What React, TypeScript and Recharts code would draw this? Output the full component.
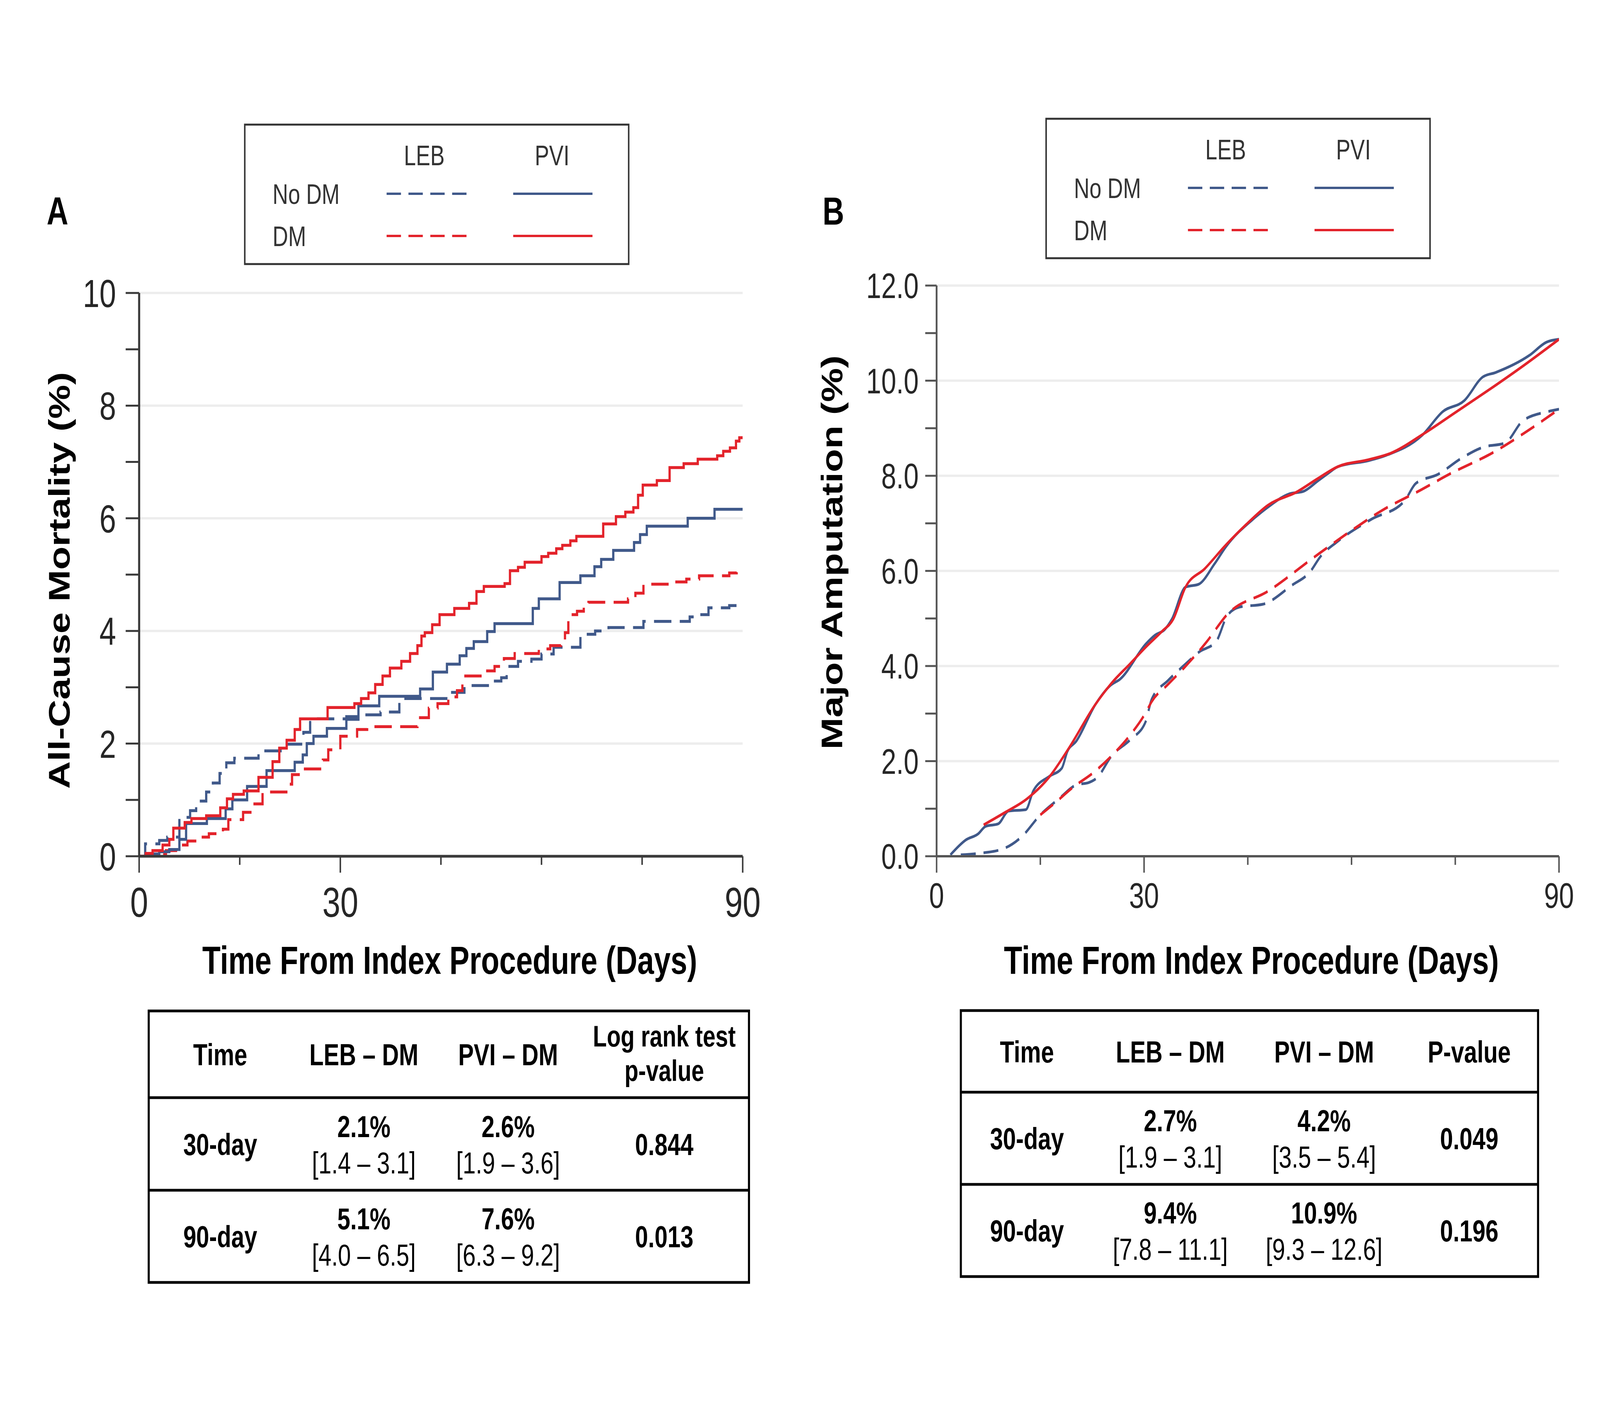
import React from 'react';
import { LineChart, Line, XAxis, YAxis, ReferenceLine } from 'recharts';

const FONT = '"Liberation Sans", Arial, Helvetica, sans-serif';
const BLUE = '#40598a';
const RED = '#e3232b';
const AXIS_A = '#3a3a3a';
const AXIS_B = '#555555';
const GRID = '#ededed';
const PAGE_W = 5347;
const PAGE_H = 3648;

// ---------- Panel A : All-cause mortality (Kaplan-Meier steps) ----------
const A_X_TICKS = [0, 15, 30, 45, 60, 75, 90];
const A_X_LABELS = [0, 30, 90];
const A_Y_TICKS = [0, 1, 2, 3, 4, 5, 6, 7, 8, 9, 10];
const A_Y_LABELS = [0, 2, 4, 6, 8, 10];
const A_GRID = [2, 4, 6, 8, 10];

const A_PVI_DM = [
  [0, 0], [1, 0.05], [2, 0.1], [3.5, 0.2], [4.5, 0.3], [5.1, 0.5], [6.8, 0.6], [7.8, 0.67], [10, 0.72],
  [12.1, 0.86], [13.1, 1.02], [14, 1.1], [15.6, 1.16], [17.8, 1.4], [19.9, 1.68], [20.9, 1.92], [22, 2.06],
  [23.2, 2.25], [24, 2.44], [28.1, 2.64], [32.1, 2.71], [33.1, 2.8], [34.2, 2.9], [35.2, 3.05], [36.3, 3.2],
  [37.4, 3.34], [39.1, 3.46], [40.4, 3.6], [41.5, 3.74], [42.1, 3.91], [42.6, 3.97], [43.7, 4.11], [44.8, 4.29],
  [47, 4.4], [49.2, 4.49], [50.3, 4.7], [51.4, 4.79], [54.5, 4.84], [55.3, 5.07], [56.5, 5.13], [57.5, 5.22],
  [60, 5.32], [61, 5.38], [62.2, 5.46], [63.1, 5.52], [64.3, 5.6], [65.2, 5.68], [69.2, 5.9], [71.1, 6.03],
  [72.5, 6.11], [73.7, 6.19], [74.4, 6.41], [75.1, 6.59], [77.2, 6.67], [79.1, 6.9], [81.2, 6.97], [83.3, 7.05],
  [86.2, 7.11], [87.1, 7.19], [88.1, 7.25], [89, 7.37], [89.5, 7.43], [90, 7.43],
];
const A_PVI_NODM = [
  [0, 0], [1.5, 0.04], [3, 0.08], [4.5, 0.12], [6, 0.3], [7, 0.58], [10.1, 0.67], [12.9, 0.84], [13.9, 1.0],
  [16.1, 1.24], [19, 1.52], [23.2, 1.67], [24.4, 1.8], [25, 2.0], [26, 2.13], [28, 2.27], [30.9, 2.43],
  [32.7, 2.67], [35.8, 2.84], [41.9, 2.97], [43.8, 3.27], [45.9, 3.41], [47.8, 3.56], [48.8, 3.69], [49.9, 3.81],
  [51.9, 3.99], [53, 4.13], [58.7, 4.4], [59.6, 4.57], [62.7, 4.86], [65.8, 4.98], [67.9, 5.14], [68.9, 5.27],
  [70.7, 5.43], [73.8, 5.57], [74.7, 5.71], [75.7, 5.86], [81.8, 6.0], [85.8, 6.16], [90, 6.16],
];
const A_LEB_DM = [
  [0, 0], [2, 0.04], [4, 0.1], [5.5, 0.2], [7.2, 0.27], [9, 0.34], [10.4, 0.4], [12.5, 0.48], [13.3, 0.65],
  [15.5, 0.78], [16.9, 0.93], [18.4, 1.14], [22.2, 1.28], [22.8, 1.45], [24.3, 1.55], [27.4, 1.71], [28.2, 1.89],
  [30, 2.13], [32.5, 2.25], [34, 2.3], [41.5, 2.46], [43.2, 2.63], [44.5, 2.71], [46.1, 2.83], [47.4, 2.94],
  [48.2, 3.2], [51.7, 3.29], [53, 3.37], [54.4, 3.51], [56, 3.6], [59.6, 3.68], [61.3, 3.74], [62.9, 3.81],
  [63.5, 3.97], [64, 4.29], [65.3, 4.35], [66.3, 4.45], [67, 4.51], [72.9, 4.57], [74, 4.67], [75.2, 4.83],
  [79.5, 4.87], [81.6, 4.92], [83.5, 4.98], [88, 5.03], [89.1, 5.08], [90, 5.08],
];
const A_LEB_NODM = [
  [0, 0], [0.9, 0.22], [3, 0.28], [4.2, 0.34], [6, 0.69], [7.6, 0.81], [8.5, 0.98], [10, 1.14], [11, 1.3],
  [12, 1.47], [13, 1.66], [14.2, 1.74], [17.8, 1.87], [22, 1.99], [24.5, 2.2], [25.5, 2.44], [30.9, 2.48],
  [33, 2.51], [36, 2.56], [38.8, 2.8], [46, 2.91], [48.5, 3.03], [52.6, 3.11], [54, 3.17], [54.8, 3.37],
  [56.5, 3.46], [58.5, 3.5], [60, 3.59], [61.8, 3.71], [65.8, 3.94], [68, 4.0], [70, 4.06], [75.2, 4.17],
  [79.7, 4.17], [82.1, 4.25], [83.3, 4.29], [84.9, 4.41], [88, 4.45], [90, 4.45],
];

// ---------- Panel B : Major amputation ----------
const B_X_TICKS = [0, 15, 30, 45, 60, 75, 90];
const B_X_LABELS = [0, 30, 90];
const B_Y_TICKS = [0, 1, 2, 3, 4, 5, 6, 7, 8, 9, 10, 11, 12];
const B_Y_LABELS = [0, 2, 4, 6, 8, 10, 12];
const B_GRID = [2, 4, 6, 8, 10, 12];

const B_PVI_DM = [
  [6.8, 0.66], [10, 0.93], [13, 1.2], [16.2, 1.65], [19.2, 2.29], [22.9, 3.18], [25.3, 3.64], [28, 4.05],
  [30.2, 4.39], [32.6, 4.73], [34.2, 4.98], [36, 5.66], [38.8, 6.05], [41.8, 6.54], [44.8, 6.98], [47.9, 7.38],
  [52.2, 7.67], [55, 7.93], [58, 8.19], [62.5, 8.34], [65.6, 8.47], [70.5, 8.89], [75, 9.33], [80, 9.82],
  [85, 10.33], [90, 10.87],
];
const B_PVI_NODM = [
  [2, 0.03], [4.2, 0.34], [6, 0.47], [7.1, 0.63], [8.9, 0.68], [10.4, 0.95], [12.9, 0.98], [14, 1.38],
  [16.3, 1.68], [18.1, 1.85], [18.9, 2.2], [20.2, 2.42], [23, 3.2], [25.2, 3.6], [26.5, 3.72], [30.3, 4.47],
  [31.6, 4.65], [33, 4.77], [34, 4.98], [36, 5.66], [37.9, 5.72], [40.2, 6.15], [41.8, 6.5], [46.1, 7.13],
  [47.9, 7.34], [51, 7.62], [53, 7.67], [55.2, 7.9], [56.6, 8.05], [58, 8.19], [62.5, 8.32], [65, 8.43],
  [70.2, 8.85], [73.2, 9.35], [76.3, 9.58], [79, 10.08], [80.8, 10.17], [85.7, 10.53], [88.2, 10.81], [90, 10.87],
];
const B_LEB_DM = [
  [15, 0.87], [17.1, 1.12], [19.8, 1.46], [22.6, 1.75], [25.3, 2.11], [28, 2.55], [30.2, 3.01], [31.1, 3.25],
  [33.5, 3.62], [35.9, 3.98], [39, 4.5], [42, 5.08], [48, 5.58], [54.7, 6.3], [60, 6.85], [64.4, 7.27],
  [70, 7.7], [74.1, 8.03], [80.6, 8.5], [85, 8.9], [90, 9.4],
];
const B_LEB_NODM = [
  [3.5, 0.03], [6, 0.06], [9.5, 0.15], [12.3, 0.41], [15, 0.87], [17.7, 1.21], [20.2, 1.5], [22, 1.55],
  [23.2, 1.65], [25.3, 2.11], [28, 2.45], [30.2, 2.82], [31.1, 3.3], [33.5, 3.7], [35.9, 4.03], [38, 4.3],
  [40.4, 4.51], [42, 5.05], [43.8, 5.24], [47.2, 5.3], [51.4, 5.7], [54, 5.98], [55.5, 6.3], [57.9, 6.61],
  [62.8, 7.08], [67.6, 7.46], [69.3, 7.84], [72.5, 8.03], [75.8, 8.36], [79, 8.6], [82.2, 8.69], [84.8, 9.16],
  [88.4, 9.35], [90, 9.4],
];

// ---------- Tables ----------
const A_HEAD = [['Time'], ['LEB – DM'], ['PVI – DM'], ['Log rank test', 'p-value']];
const A_ROWS = [
  [['30-day'], ['2.1%', '[1.4 – 3.1]'], ['2.6%', '[1.9 – 3.6]'], ['0.844']],
  [['90-day'], ['5.1%', '[4.0 – 6.5]'], ['7.6%', '[6.3 – 9.2]'], ['0.013']],
];
const B_HEAD = [['Time'], ['LEB – DM'], ['PVI – DM'], ['P-value']];
const B_ROWS = [
  [['30-day'], ['2.7%', '[1.9 – 3.1]'], ['4.2%', '[3.5 – 5.4]'], ['0.049']],
  [['90-day'], ['9.4%', '[7.8 – 11.1]'], ['10.9%', '[9.3 – 12.6]'], ['0.196']],
];

const LEGEND_COLS = ['LEB', 'PVI'];
const LEGEND_ROWS = ['No DM', 'DM'];
const X_TITLE = 'Time From Index Procedure (Days)';

const toPts = (arr: number[][]) => arr.map(([x, y]) => ({ x, y }));

const makeYTick = (labels: number[], color: string, len: number, gap: number, fs: number, fmt: (v: number) => string) =>
  (props: any) => {
    const { x, y, payload } = props;
    const v = payload.value;
    return (
      <g>
        <line x1={x - len} x2={x} y1={y} y2={y} stroke={color} strokeWidth={5} />
        {labels.includes(v) && (
          <text x={x - gap} y={y + fs * 0.36} textAnchor="end" fontSize={fs} fontFamily={FONT} fill="#262626">
            {fmt(v)}
          </text>
        )}
      </g>
    );
  };

const makeXTick = (labels: number[], color: string, off: number, fs: number) => (props: any) => {
  const { x, y, payload } = props;
  const v = payload.value;
  const major = labels.includes(v);
  return (
    <g>
      <line x1={x} x2={x} y1={y} y2={y + (major ? 42 : 22)} stroke={color} strokeWidth={5} />
      {major && (
        <text x={x} y={y + off} textAnchor="middle" fontSize={fs} fontFamily={FONT} fill="#262626">
          {v}
        </text>
      )}
    </g>
  );
};

function PanelA() {
  return (
    <LineChart width={2700} height={2600} margin={{ top: 750, right: 218, bottom: 208, left: 265 }}>
      <XAxis dataKey="x" type="number" domain={[0, 90]} ticks={A_X_TICKS} interval={0} height={200}
        tickLine={false} tickSize={0} tickMargin={0} axisLine={{ stroke: AXIS_A, strokeWidth: 7 }}
        tick={makeXTick(A_X_LABELS, AXIS_A, 155, 108)} allowDataOverflow />
      <YAxis type="number" domain={[0, 10]} ticks={A_Y_TICKS} interval={0} width={200}
        tickLine={false} tickSize={0} tickMargin={0} axisLine={{ stroke: AXIS_A, strokeWidth: 7 }}
        tick={makeYTick(A_Y_LABELS, AXIS_A, 45, 77, 100, (v) => String(v))} allowDataOverflow />
      {A_GRID.map((g) => (
        <ReferenceLine key={g} y={g} stroke={GRID} strokeWidth={6} ifOverflow="extendDomain" />
      ))}
      <Line data={toPts(A_LEB_NODM)} dataKey="y" type="stepAfter" stroke={BLUE} strokeWidth={7.5} strokeDasharray="58 28" dot={false} isAnimationActive={false} />
      <Line data={toPts(A_LEB_DM)} dataKey="y" type="stepAfter" stroke={RED} strokeWidth={7.5} strokeDasharray="58 28" dot={false} isAnimationActive={false} />
      <Line data={toPts(A_PVI_NODM)} dataKey="y" type="stepAfter" stroke={BLUE} strokeWidth={7.5} dot={false} isAnimationActive={false} />
      <Line data={toPts(A_PVI_DM)} dataKey="y" type="stepAfter" stroke={RED} strokeWidth={7.5} dot={false} isAnimationActive={false} />
    </LineChart>
  );
}

function PanelB() {
  return (
    <LineChart width={2647} height={2600} margin={{ top: 731, right: 137, bottom: 208, left: 230 }}>
      <XAxis dataKey="x" type="number" domain={[0, 90]} ticks={B_X_TICKS} interval={0} height={200}
        tickLine={false} tickSize={0} tickMargin={0} axisLine={{ stroke: AXIS_B, strokeWidth: 6 }}
        tick={makeXTick(B_X_LABELS, AXIS_B, 132, 90)} allowDataOverflow />
      <YAxis type="number" domain={[0, 12]} ticks={B_Y_TICKS} interval={0} width={200}
        tickLine={false} tickSize={0} tickMargin={0} axisLine={{ stroke: AXIS_B, strokeWidth: 6 }}
        tick={makeYTick(B_Y_LABELS, AXIS_B, 38, 60, 90, (v) => v.toFixed(1))} allowDataOverflow />
      {B_GRID.map((g) => (
        <ReferenceLine key={g} y={g} stroke={GRID} strokeWidth={6} ifOverflow="extendDomain" />
      ))}
      <Line data={toPts(B_LEB_NODM)} dataKey="y" type="monotone" stroke={BLUE} strokeWidth={7} strokeDasharray="50 26" dot={false} isAnimationActive={false} />
      <Line data={toPts(B_LEB_DM)} dataKey="y" type="monotone" stroke={RED} strokeWidth={7} strokeDasharray="50 26" dot={false} isAnimationActive={false} />
      <Line data={toPts(B_PVI_NODM)} dataKey="y" type="monotone" stroke={BLUE} strokeWidth={7} dot={false} isAnimationActive={false} />
      <Line data={toPts(B_PVI_DM)} dataKey="y" type="monotone" stroke={RED} strokeWidth={7} dot={false} isAnimationActive={false} />
    </LineChart>
  );
}

function Legend({ x, y }: { x: number; y: number }) {
  const w = 1283;
  const h = 357;
  const rowsY = [y + 177, y + 285];
  return (
    <g fontFamily={FONT} fill="#333">
      <rect x={x} y={y} width={w} height={h} fill="#fff" stroke="#333" strokeWidth={5} />
      <text x={x + 600} y={y + 78 + 26} fontSize={72} textAnchor="middle">{LEGEND_COLS[0]}</text>
      <text x={x + 1027} y={y + 78 + 26} fontSize={72} textAnchor="middle">{LEGEND_COLS[1]}</text>
      {LEGEND_ROWS.map((r, i) => (
        <g key={r}>
          <text x={x + 93} y={rowsY[i] + 26} fontSize={72}>{r}</text>
          <line x1={x + 474} x2={x + 741} y1={rowsY[i]} y2={rowsY[i]} stroke={i === 0 ? BLUE : RED} strokeWidth={6} strokeDasharray="48 25" />
          <line x1={x + 897} x2={x + 1162} y1={rowsY[i]} y2={rowsY[i]} stroke={i === 0 ? BLUE : RED} strokeWidth={6} />
        </g>
      ))}
    </g>
  );
}

function StatTable({ x0, x1, yl, cols, head, rows }: { x0: number; x1: number; yl: number[]; cols: number[]; head: string[][]; rows: string[][][] }) {
  const fs = 78;
  const cell = (lines: string[], cx: number, cy: number, key: string, headRow: boolean) => {
    if (lines.length === 1) {
      return (
        <text key={key} x={cx} y={cy + fs * 0.36} fontSize={fs} fontWeight="bold" textAnchor="middle">{lines[0]}</text>
      );
    }
    return (
      <g key={key}>
        <text x={cx} y={cy - (headRow ? 48 : 46) + fs * 0.36} fontSize={headRow ? 76 : fs} fontWeight="bold" textAnchor="middle">{lines[0]}</text>
        <text x={cx} y={cy + (headRow ? 40 : 47) + fs * 0.36} fontSize={headRow ? 76 : fs} fontWeight={headRow ? 'bold' : 'normal'} textAnchor="middle">{lines[1]}</text>
      </g>
    );
  };
  const rc = (i: number) => (yl[i] + yl[i + 1]) / 2;
  return (
    <g fontFamily={FONT} fill="#000">
      <rect x={x0} y={yl[0]} width={x1 - x0} height={yl[3] - yl[0]} fill="none" stroke="#000" strokeWidth={7} />
      <line x1={x0} x2={x1} y1={yl[1]} y2={yl[1]} stroke="#000" strokeWidth={7} />
      <line x1={x0} x2={x1} y1={yl[2]} y2={yl[2]} stroke="#000" strokeWidth={7} />
      {head.map((h, j) => cell(h, cols[j], rc(0), 'h' + j, true))}
      {rows.map((r, i) => r.map((c, j) => cell(c, cols[j], rc(i + 1), 'r' + i + j, false)))}
    </g>
  );
}

// The page is fitted to whatever viewport the browser actually gives,
// so that the photographed frame holds the full 5347 x 3648 layout.
function usePageScale() {
  const get = () => {
    if (typeof window === 'undefined') return { sx: 1, sy: 1 };
    const w = document.documentElement.clientWidth || window.innerWidth || PAGE_W;
    const h = document.documentElement.clientHeight || window.innerHeight || PAGE_H;
    return { sx: w / PAGE_W, sy: h / PAGE_H };
  };
  const [s, setS] = React.useState(get);
  React.useEffect(() => {
    const on = () => setS(get());
    window.addEventListener('resize', on);
    on();
    return () => window.removeEventListener('resize', on);
  }, []);
  return s;
}

export default function App() {
  const { sx, sy } = usePageScale();
  return (
    <div style={{ position: 'fixed', left: 0, top: 0, width: '100vw', height: '100vh', overflow: 'hidden', background: '#fff' }}>
      <div style={{ position: 'absolute', left: 0, top: 0, width: PAGE_W, height: PAGE_H, background: '#fff', transform: `scale(${sx}, ${sy})`, transformOrigin: '0 0' }}>
        <div style={{ position: 'absolute', left: 0, top: 0, width: 2700, height: 2600 }}>
          <PanelA />
        </div>
        <div style={{ position: 'absolute', left: 2700, top: 0, width: 2647, height: 2600 }}>
          <PanelB />
        </div>
        <svg width={PAGE_W} height={PAGE_H} style={{ position: 'absolute', left: 0, top: 0, pointerEvents: 'none' }}>
          <text x={156} y={575} fontSize={100} fontWeight="bold" fontFamily={FONT} fill="#000">A</text>
          <text x={2749} y={575} fontSize={100} fontWeight="bold" fontFamily={FONT} fill="#000">B</text>
          <text transform="translate(232,1486) rotate(-90)" fontSize={98} fontWeight="bold" fontFamily={FONT} textAnchor="middle" fill="#000">All-Cause Mortality (%)</text>
          <text transform="translate(2815,1414) rotate(-90)" fontSize={98} fontWeight="bold" fontFamily={FONT} textAnchor="middle" fill="#000">Major Amputation (%)</text>
          <text x={1503} y={2493} fontSize={100} fontWeight="bold" fontFamily={FONT} textAnchor="middle" fill="#000">{X_TITLE}</text>
          <text x={4182} y={2493} fontSize={100} fontWeight="bold" fontFamily={FONT} textAnchor="middle" fill="#000">{X_TITLE}</text>
          <Legend x={818} y={319} />
          <Legend x={3496} y={304} />
          <StatTable x0={497} x1={2503} yl={[2588, 2810, 3047, 3283]} cols={[736, 1216, 1698, 2220]} head={A_HEAD} rows={A_ROWS} />
          <StatTable x0={3211} x1={5140} yl={[2587, 2796, 3032, 3268]} cols={[3432, 3911, 4425, 4910]} head={B_HEAD} rows={B_ROWS} />
        </svg>
      </div>
    </div>
  );
}
